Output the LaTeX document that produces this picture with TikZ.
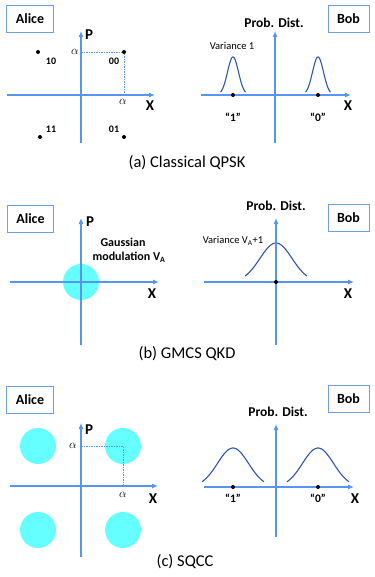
\documentclass[tikz,border=0pt]{standalone}
\usepackage{fontspec}
\setmainfont{Carlito}
\usetikzlibrary{arrows.meta}
\definecolor{axisblue}{RGB}{86,150,240}
\definecolor{boxblue}{RGB}{110,160,230}
\definecolor{curveblue}{RGB}{45,85,180}
\definecolor{blobcyan}{RGB}{102,255,255}
\begin{document}
\begin{tikzpicture}[x=1pt,y=-1pt,
  axis/.style={draw=axisblue, line width=1.1pt, -{Latex[length=6pt,width=5pt]}},
  party/.style={draw=boxblue, line width=0.9pt, inner xsep=9pt, minimum height=27pt, inner ysep=0pt, font=\fontsize{14}{14}\selectfont\bfseries},
  axlab/.style={font=\fontsize{15}{15}\selectfont\bfseries, inner sep=0pt},
  ptlab/.style={font=\fontsize{10}{10}\selectfont\bfseries, inner sep=0pt},
  alab/.style={font=\fontsize{13}{13}\selectfont, inner sep=0pt},
  plab/.style={font=\fontsize{13.5}{13.5}\selectfont\bfseries, inner sep=0pt},
  varlab/.style={font=\fontsize{10.5}{10.5}\selectfont, inner sep=0pt},
  bitlab/.style={font=\fontsize{11.5}{11.5}\selectfont\bfseries, inner sep=0pt},
  caption/.style={font=\fontsize{16.5}{16.5}\selectfont, inner sep=0pt},
  gauss/.style={font=\fontsize{12}{12}\selectfont\bfseries, inner sep=0pt},
  dot/.style={circle, fill=black, minimum size=4pt, inner sep=0pt},
  guide/.style={draw=axisblue, line width=0.6pt, dash pattern=on 1.5pt off 1pt},
  blob/.style={fill=blobcyan, draw=none},
  curve/.style={draw=curveblue, line width=1.1pt}
]
\useasboundingbox (0,0) rectangle (374,577);

% ================= (a) =================
\node[party] (aliceA) at (30,18.5) {Alice};
\coordinate (aPb) at (81,143); \coordinate (aPt) at (81,31);
\coordinate (aXl) at (7,95);   \coordinate (aXr) at (155,95);
\coordinate (aPa) at (81,52);  \coordinate (aXa) at (124,95);
\draw[guide] (aPa) -- (124,52) -- (aXa);
\draw[axis] (aPb) -- (aPt);
\draw[axis] (aXl) -- (aXr);
\node[axlab] (aP) at (89,35) {P};
\node[axlab] (aX) at (150,106) {X};
\node[alab] (aal1) at (75,52) {$\alpha$};
\node[alab] (aal2) at (123,102) {$\alpha$};
\node[dot] (d00) at (124,52) {};
\node[dot] (d10) at (38,52) {};
\node[dot] (d11) at (40,137) {};
\node[dot] (d01) at (124,137) {};
\node[ptlab] (l00) at (114,61) {00};
\node[ptlab] (l10) at (51,61) {10};
\node[ptlab] (l11) at (51,129) {11};
\node[ptlab] (l01) at (114,129) {01};

\node[party] (bobA) at (348.5,18.5) {Bob};
\node[plab] (pdA) at (274,23) {Prob. Dist.};
\coordinate (bAPb) at (275,143); \coordinate (bAPt) at (275,31);
\coordinate (bAXl) at (201,95);  \coordinate (bAXr) at (351,95);
\draw[curve] plot[domain=-12.5:12.5, samples=50] ({233+\x}, {95-38*exp(-(\x*\x)/(2*30))});
\draw[curve] plot[domain=-12.5:12.5, samples=50] ({318+\x}, {95-38*exp(-(\x*\x)/(2*30))});
\draw[axis] (bAPb) -- (bAPt);
\draw[axis] (bAXl) -- (bAXr);
\node[axlab] (bAX) at (348,106) {X};
\node[dot] (bA1) at (233,95) {};
\node[dot] (bA0) at (318,95) {};
\node[varlab] (varA) at (232,46) {Variance 1};
\node[bitlab] (bitA1) at (233,117) {“1”};
\node[bitlab] (bitA0) at (318,117) {“0”};
\node[caption] (capA) at (187,163) {(a) Classical QPSK};

% ================= (b) =================
\node[party] (aliceB) at (30.5,218.5) {Alice};
\fill[blob] (81,282) circle[radius=18];
\coordinate (aBPb) at (81,345); \coordinate (aBPt) at (81,218);
\coordinate (aBXl) at (10,282); \coordinate (aBXr) at (159,282);
\draw[axis] (aBPb) -- (aBPt);
\draw[axis] (aBXl) -- (aBXr);
\node[axlab] (aBP) at (90,222) {P};
\node[axlab] (aBX) at (152,294) {X};
\node[gauss] (gA) at (123,242) {Gaussian};
\node[gauss] (gB) at (129,257.5) {modulation V\textsubscript{A}};

\node[party] (bobB) at (348.5,218) {Bob};
\node[plab] (pdB) at (276,206) {Prob. Dist.};
\coordinate (bBPb) at (276,345); \coordinate (bBPt) at (276,218);
\coordinate (bBXl) at (204,282); \coordinate (bBXr) at (354,282);
\draw[curve] plot[domain=-31:31, samples=60] ({276+\x}, {282-39*exp(-(\x*\x)/(2*256))});
\draw[axis] (bBPb) -- (bBPt);
\draw[axis] (bBXl) -- (bBXr);
\node[axlab] (bBX) at (348,294) {X};
\node[dot] (bB0) at (276,282) {};
\node[varlab] (varB) at (233,241) {Variance V\textsubscript{A}+1};
\node[caption] (capB) at (187,354) {(b) GMCS QKD};

% ================= (c) =================
\node[party] (aliceC) at (30,399.5) {Alice};
\fill[blob] (38,446) circle[radius=18];
\fill[blob] (123,446) circle[radius=18];
\fill[blob] (38,530) circle[radius=18];
\fill[blob] (123,530) circle[radius=18];
\coordinate (aCPb) at (81,557); \coordinate (aCPt) at (81,423);
\coordinate (aCXl) at (10,486); \coordinate (aCXr) at (158,486);
\coordinate (aCPa) at (81,446); \coordinate (aCXa) at (123,486);
\draw[guide] (aCPa) -- (123,446) -- (aCXa);
\draw[axis] (aCPb) -- (aCPt);
\draw[axis] (aCXl) -- (aCXr);
\node[axlab] (aCP) at (89,430) {P};
\node[axlab] (aCX) at (153,499) {X};
\node[alab] (aCal1) at (73,446) {$\alpha$};
\node[alab] (aCal2) at (123,495) {$\alpha$};

\node[party] (bobC) at (348.5,398.5) {Bob};
\node[plab] (pdC) at (278,412) {Prob. Dist.};
\coordinate (bCPb) at (276,537); \coordinate (bCPt) at (276,424);
\coordinate (bCXl) at (204,487); \coordinate (bCXr) at (354,487);
\draw[curve] plot[domain=-31:31, samples=60] ({233+\x}, {487-39*exp(-(\x*\x)/(2*240))});
\draw[curve] plot[domain=-31:31, samples=60] ({318+\x}, {487-39*exp(-(\x*\x)/(2*240))});
\draw[axis] (bCPb) -- (bCPt);
\draw[axis] (bCXl) -- (bCXr);
\node[axlab] (bCX) at (355,499) {X};
\node[dot] (bC1) at (233,487) {};
\node[dot] (bC0) at (318,487) {};
\node[bitlab] (bitC1) at (233,498) {“1”};
\node[bitlab] (bitC0) at (318,498) {“0”};
\node[caption] (capC) at (185,562) {(c) SQCC};
\end{tikzpicture}
\end{document}
